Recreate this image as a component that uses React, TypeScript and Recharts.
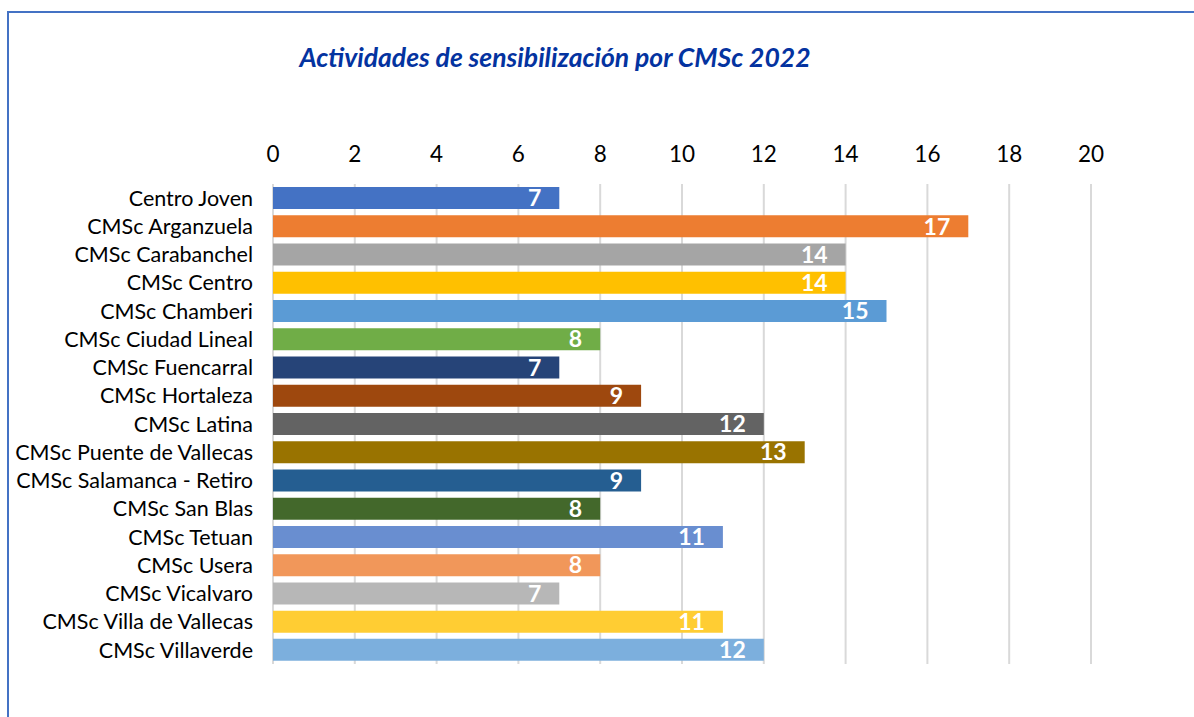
import { Bar, BarChart, CartesianGrid, Cell, LabelList, XAxis, YAxis } from "recharts";

const centros = [
  "Centro Joven",
  "CMSc Arganzuela",
  "CMSc Carabanchel",
  "CMSc Centro",
  "CMSc Chamberi",
  "CMSc Ciudad Lineal",
  "CMSc Fuencarral",
  "CMSc Hortaleza",
  "CMSc Latina",
  "CMSc Puente de Vallecas",
  "CMSc Salamanca - Retiro",
  "CMSc San Blas",
  "CMSc Tetuan",
  "CMSc Usera",
  "CMSc Vicalvaro",
  "CMSc Villa de Vallecas",
  "CMSc Villaverde",
];

const actividades = [7, 17, 14, 14, 15, 8, 7, 9, 12, 13, 9, 8, 11, 8, 7, 11, 12];

const xTicks = [0, 2, 4, 6, 8, 10, 12, 14, 16, 18, 20];

const colores = [
  "#4472C4",
  "#ED7D31",
  "#A5A5A5",
  "#FFC000",
  "#5B9BD5",
  "#70AD47",
  "#264478",
  "#9E480E",
  "#636363",
  "#997300",
  "#255E91",
  "#43682B",
  "#698ED0",
  "#F1975A",
  "#B7B7B7",
  "#FFCD33",
  "#7CAFDD",
];

const data = centros.map((centro, i) => ({ centro, valor: actividades[i] }));

const FONT = "Lato, 'Open Sans', sans-serif";

export default function App() {
  return (
    <div
      style={{
        position: "absolute",
        left: 0,
        top: 0,
        width: 1194,
        height: 717,
        overflow: "hidden",
        background: "#fff",
        fontFamily: FONT,
      }}
    >
      <div
        style={{
          position: "absolute",
          left: 7,
          top: 11,
          width: 1300,
          height: 800,
          border: "2px solid #4472C4",
          boxSizing: "border-box",
        }}
      />
      <div
        style={{
          position: "absolute",
          left: 0,
          top: 41,
          width: 1110,
          textAlign: "center",
          color: "#0433A0",
          fontSize: 26.5,
          fontWeight: 700,
          fontStyle: "italic",
        }}
      >
        Actividades de sensibilización por CMSc 2022
      </div>
      <div style={{ position: "absolute", left: 0, top: 0 }}>
        <BarChart
          width={1194}
          height={717}
          data={data}
          layout="vertical"
          barCategoryGap="11%"
          margin={{ top: 144, right: 103, bottom: 53, left: 0 }}
        >
          <CartesianGrid horizontal={false} stroke="#D9D9D9" strokeWidth={2} />
          <XAxis
            type="number"
            orientation="top"
            domain={[0, 20]}
            ticks={xTicks}
            interval={0}
            axisLine={false}
            tickLine={false}
            tickSize={0}
            tickMargin={22}
            height={40}
            tick={{ fill: "#000", fontSize: 22.5, fontFamily: FONT }}
          />
          <YAxis
            type="category"
            dataKey="centro"
            width={273}
            interval={0}
            axisLine={false}
            tickLine={false}
            tickSize={0}
            tickMargin={20}
            tick={{ fill: "#000", fontSize: 21.5, fontFamily: FONT }}
          />
          <Bar dataKey="valor" isAnimationActive={false}>
            {data.map((d, i) => (
              <Cell key={d.centro} fill={colores[i]} />
            ))}
            <LabelList
              dataKey="valor"
              position="insideRight"
              offset={18}
              fill="#fff"
              fontSize={23}
              fontWeight={700}
              fontFamily={FONT}
            />
          </Bar>
        </BarChart>
      </div>
    </div>
  );
}
